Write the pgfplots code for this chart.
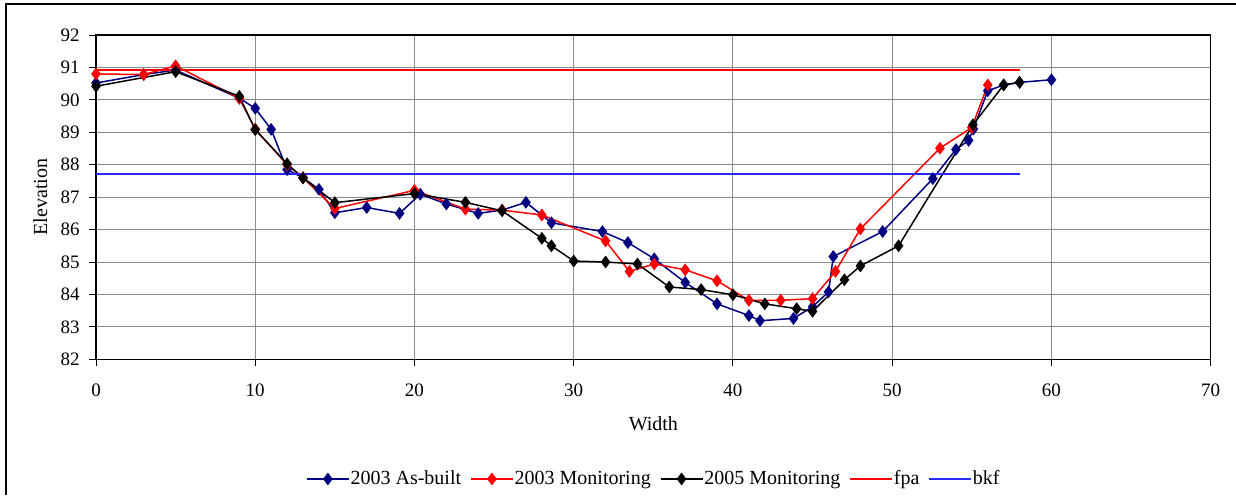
\documentclass[border=0pt]{standalone}
\usepackage{fontspec}
\setmainfont{Liberation Serif}
\usepackage{pgfplots}
\pgfplotsset{compat=1.18}
\definecolor{navyc}{RGB}{0,0,128}
\definecolor{bkfc}{RGB}{40,40,255}
\definecolor{gridc}{RGB}{140,140,140}
\begin{document}
\begin{tikzpicture}
\useasboundingbox (0,0) rectangle (618pt,247.5pt);
\draw[line width=0.75pt] (3pt,0) -- (3pt,245.5pt) -- (618pt,245.5pt);
\begin{axis}[
  at={(48pt,67.85pt)}, anchor=south west,
  scale only axis, width=557.35pt, height=162.15pt,
  xmin=0, xmax=70, ymin=82, ymax=92,
  xtick={0,10,...,70}, ytick={82,83,...,92},
  grid=major, major grid style={gridc, line width=0.5pt},
  axis line style={line width=0.7pt},
  tick pos=left, tick align=outside, major tick length=3.5pt,
  tick style={black, line width=0.5pt},
  font=\fontsize{10}{12}\selectfont,
  /pgf/number format/assume math mode=true,
  ticklabel style={font=\fontsize{9.5}{11}\selectfont},
  xticklabel style={yshift=-5.4pt},
  yticklabel style={xshift=-1.2pt},
  xlabel={Width}, ylabel={Elevation},
  xlabel style={at={(axis description cs:0.5,-0.2)}, anchor=center},
  ylabel style={at={(axis description cs:-0.05,0.5)}, anchor=center},
  legend columns=5,
  legend style={at={(0.5,-0.369)}, anchor=center, draw=none,
    font=\fontsize{10}{12}\selectfont,
    nodes={inner sep=0.5pt},
    /tikz/every even column/.append style={column sep=4pt}},
  legend image code/.code={\draw[mark repeat=2,mark phase=2,#1] plot coordinates {(0pt,0pt) (10.5pt,0pt) (21pt,0pt)};},
  every axis plot/.append style={line width=0.75pt},
]
\addplot[navyc, mark=diamond*, mark size=2.6pt, mark options={solid}] coordinates {
(0,90.52) (3,90.78) (5,90.92) (9,90.05) (10,89.74) (11,89.09) (12,87.85) (13,87.6)
(14,87.24) (15,86.52) (17,86.68) (19.06,86.5) (20.36,87.09) (22,86.79) (24,86.5)
(25.5,86.6) (27,86.84) (28.6,86.21) (31.8,85.94) (33.4,85.6) (35.06,85.1) (37,84.37)
(39,83.71) (41,83.35) (41.7,83.19) (43.8,83.26) (45,83.62) (46,84.08) (46.3,85.17)
(49.4,85.94) (52.55,87.57) (54,88.47) (54.8,88.75) (55.1,89.1) (56,90.28) (57,90.46)
(58,90.54) (60,90.62)};
\addlegendentry{2003 As-built}
\addplot[red, mark=diamond*, mark size=2.6pt] coordinates {
(0,90.8) (3,90.78) (5,91.05) (9,90.05) (10,89.1) (12,88.0) (13,87.6) (15,86.65)
(20,87.21) (23.2,86.63) (25.5,86.6) (28,86.45) (32,85.65) (33.5,84.71) (35.06,84.94)
(37,84.76) (39,84.42) (41,83.82) (43,83.82) (45,83.87) (46.44,84.71) (48,86.02)
(53,88.51) (55,89.15) (56,90.46)};
\addlegendentry{2003 Monitoring}
\addplot[black, mark=diamond*, mark size=2.6pt] coordinates {
(0,90.42) (5,90.87) (9,90.11) (10,89.08) (12,88.03) (13,87.59) (15,86.83) (20,87.11)
(23.2,86.84) (25.5,86.58) (28,85.73) (28.6,85.5) (30,85.03) (32,85.0) (34,84.94)
(36,84.23) (38,84.15) (40,83.99) (42,83.71) (44,83.56) (45,83.48) (47,84.45)
(48,84.88) (50.4,85.5) (55.07,89.23) (57,90.46) (58,90.54)};
\addlegendentry{2005 Monitoring}
\addplot[red, no marks] coordinates {(0,90.92) (58,90.92)};
\addlegendentry{fpa}
\addplot[bkfc, no marks] coordinates {(0,87.72) (58,87.72)};
\addlegendentry{bkf}
\end{axis}
\end{tikzpicture}
\end{document}
